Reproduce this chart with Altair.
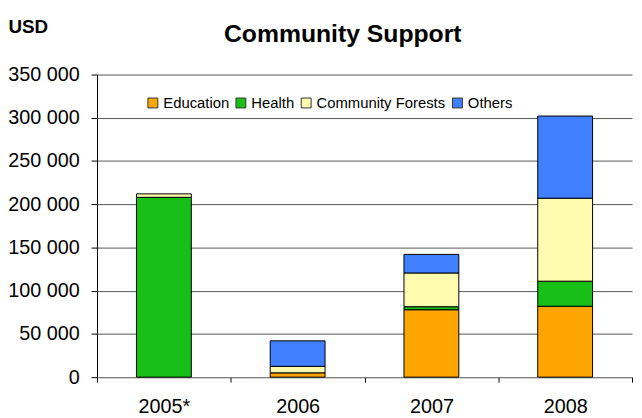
import altair as alt
import pandas as pd

years = ["2005*", "2006", "2007", "2008"]
series = ["Education", "Health", "Community Forests", "Others"]
colors = ["#FFA500", "#17BF17", "#FFFBAF", "#4080FF"]

education = [0, 5000, 78000, 82000]
health = [208000, 0, 3500, 29000]
forests = [4000, 7500, 39000, 96000]
others = [0, 29500, 21500, 95000]

values = [education, health, forests, others]
rows = []
for si, (name, vals) in enumerate(zip(series, values)):
    for yr, v in zip(years, vals):
        rows.append({"year": yr, "series": name, "order": si, "value": v})
df = pd.DataFrame(rows)

FONT = "Liberation Sans"

chart = alt.Chart(df).transform_filter("datum.value > 0").mark_bar(
    stroke="black", strokeWidth=1, width=alt.RelativeBandSize(0.41)
).encode(
    x=alt.X("year:N", sort=years, title=None,
            scale=alt.Scale(paddingInner=0, paddingOuter=0),
            axis=alt.Axis(labelAngle=0, labelFont=FONT, labelFontSize=20, labelColor="black",
                          tickBand="extent", tickSize=5, tickColor="black",
                          domainColor="#808080", labelPadding=15, grid=False)),
    y=alt.Y("value:Q", stack="zero", title="USD",
            scale=alt.Scale(domain=[0, 350000], nice=False),
            axis=alt.Axis(values=[0, 50000, 100000, 150000, 200000, 250000, 300000, 350000],
                          labelExpr="replace(format(datum.value, ','), ',', ' ')",
                          labelFont=FONT, labelFontSize=20, labelColor="black",
                          tickSize=6, tickColor="black", domainColor="black",
                          gridColor="#555555", gridWidth=1, labelPadding=12,
                          titleAngle=0, titleX=-90, titleY=-43, titleAlign="left",
                          titleBaseline="alphabetic", titleFont=FONT, titleFontSize=19,
                          titleFontWeight="bold", titleColor="black")),
    color=alt.Color("series:N", sort=series,
                    scale=alt.Scale(domain=series, range=colors),
                    legend=alt.Legend(title=None, orient="none", legendX=49, legendY=21,
                                      direction="horizontal", columns=4,
                                      symbolType="square", symbolSize=100,
                                      symbolStrokeColor="#333333", symbolStrokeWidth=1,
                                      symbolOpacity=1,
                                      labelFont=FONT, labelFontSize=15, labelColor="black",
                                      labelOffset=3, columnPadding=4)),
    order=alt.Order("order:Q", sort="ascending"),
).properties(
    width=541, height=306,
    padding={"left": 90, "top": 65, "right": 2, "bottom": 39},
    autosize=alt.AutoSizeParams(type="none"),
    title=alt.TitleParams("Community Support", font=FONT, fontSize=25, fontWeight="bold",
                          color="black", anchor="middle", frame="group", dx=-22,
                          baseline="alphabetic", offset=-50),
).configure_view(stroke=None)

chart.save("out.html", embed_options={"renderer": "svg", "actions": False})
